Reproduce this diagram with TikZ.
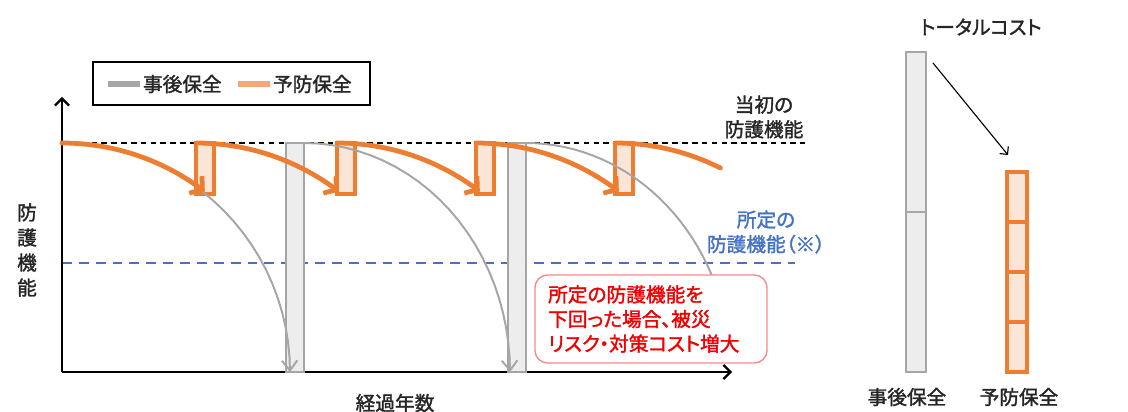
\documentclass[tikz,border=0pt]{standalone}
\usepackage{fontspec}
\setmainfont{Noto Sans CJK JP}[RawFeature=+palt, BoldFont={Noto Sans CJK JP}, BoldFeatures={FakeBold=1.6}]
\usetikzlibrary{arrows.meta}
\definecolor{hogoOrange}{HTML}{ED7D31}
\definecolor{hogoPeach}{HTML}{FBE5D6}
\definecolor{hogoSample}{HTML}{F4A878}
\definecolor{hogoGray}{HTML}{A6A6A6}
\definecolor{hogoLight}{HTML}{EDEDED}
\definecolor{hogoBlue}{HTML}{4472C4}
\definecolor{hogoRed}{HTML}{F00000}
\definecolor{hogoPink}{HTML}{F58A8A}
\definecolor{hogoInk}{HTML}{262626}

\begin{document}
\begin{tikzpicture}[x=0.025cm, y=0.025cm, font=\fontsize{14}{17.5}\selectfont\bfseries, text=hogoInk,
	graybar/.style={draw=hogoGray, line width=2pt, fill=hogoLight},
	orangebar/.style={draw=hogoOrange, line width=2.6pt, fill=hogoPeach},
	graycurve/.style={hogoGray, line width=1.4pt, -{Straight Barb[length=7pt,width=11pt]}},
	orangecurve/.style={hogoOrange, line width=3.4pt, line cap=round, -{Straight Barb[length=6pt,width=15pt]}}]
\useasboundingbox (0,0) rectangle (1128,412);

\draw [dash pattern=on 4pt off 3pt, line width=1.2pt] (62,269) to (805,269);
\draw [hogoBlue, dash pattern=on 7pt off 5pt, line width=1.6pt] (62,149) to (795,149);

\draw [line width=1.6pt, -{Straight Barb[length=5pt,width=10pt]}] (62,40) to (62,315);
\draw [line width=1.6pt, -{Straight Barb[length=5pt,width=10pt]}] (62,40) to (732,40);

\draw [graybar] (286,40) rectangle (304,269);
\draw [graybar] (508,40) rectangle (526,269);
\draw [orangebar] (196,218) rectangle (214,269);
\draw [orangebar] (337,218) rectangle (355,269);
\draw [orangebar] (476,218) rectangle (494,269);
\draw [orangebar] (615,218) rectangle (633,269);

\draw [graycurve, domain=0:90, samples=25]
	plot({62+228*sin(\x)},{40+229*cos(\x)});
\draw [graycurve, domain=0:90, samples=25]
	plot({304+206*sin(\x)},{40+229*cos(\x)});
\draw [graycurve, -, domain=0:65, samples=25]
	plot({526+205*sin(\x)},{40+229*cos(\x)});

\draw [orangecurve, domain=0:38, samples=25]
	plot({62+232*sin(\x)},{40+229*cos(\x)});
\draw [orangecurve, domain=0:38, samples=25]
	plot({196+232*sin(\x)},{40+229*cos(\x)});
\draw [orangecurve, domain=0:38, samples=25]
	plot({337+232*sin(\x)},{40+229*cos(\x)});
\draw [orangecurve, domain=0:38, samples=25]
	plot({476+232*sin(\x)},{40+229*cos(\x)});
\draw [orangecurve, -, domain=0:27, samples=25]
	plot({615+232*sin(\x)},{40+229*cos(\x)});

\node [draw=hogoPink, line width=1pt, rounded corners=9pt, fill=white, text=hogoRed,
	align=left, text width=5.14cm, inner xsep=0.33cm, minimum height=2.2cm] (riskBox)
	at (651,93) {所定の防護機能を\\下回った場合、被災\\リスク・対策コスト増大};

\node [align=center] (initLabel) at (764,295) {当初の\\防護機能};
\node [align=center, text=hogoBlue] (reqLabel) at (766,180) {所定の\\防護機能（※）};
\node [align=center, font=\fontsize{14}{17.8}\selectfont\bfseries] (yLabel) at (27,162) {防\\護\\機\\能};
\node (xLabel) at (395,9) {経過年数};

\draw [line width=1pt] (93,307) rectangle (370,350);
\draw [hogoGray, line width=4pt] (108,328) to (140,328);
\node [anchor=west] (legPost) at (138,328) {事後保全};
\draw [hogoSample, line width=4pt] (238,328) to (270,328);
\node [anchor=west] (legPrev) at (268,328) {予防保全};

\node (costTitle) at (981,385) {トータルコスト};
\draw [graybar] (906,40) rectangle (926,360);
\draw [hogoGray, line width=2pt] (906,200) to (926,200);
\draw [orangebar] (1007,40) rectangle (1027,240);
\draw [hogoOrange, line width=2.6pt] (1007,90) to (1027,90);
\draw [hogoOrange, line width=2.6pt] (1007,140) to (1027,140);
\draw [hogoOrange, line width=2.6pt] (1007,190) to (1027,190);
\coordinate (costFrom) at (933,349);
\coordinate (costTo) at (1008,257);
\draw [line width=0.8pt, -{Straight Barb[length=4pt,width=8pt]}] (costFrom) to (costTo);
\node (postLabel) at (907,15) {事後保全};
\node (prevLabel) at (1019,15) {予防保全};

\end{tikzpicture}
\end{document}
